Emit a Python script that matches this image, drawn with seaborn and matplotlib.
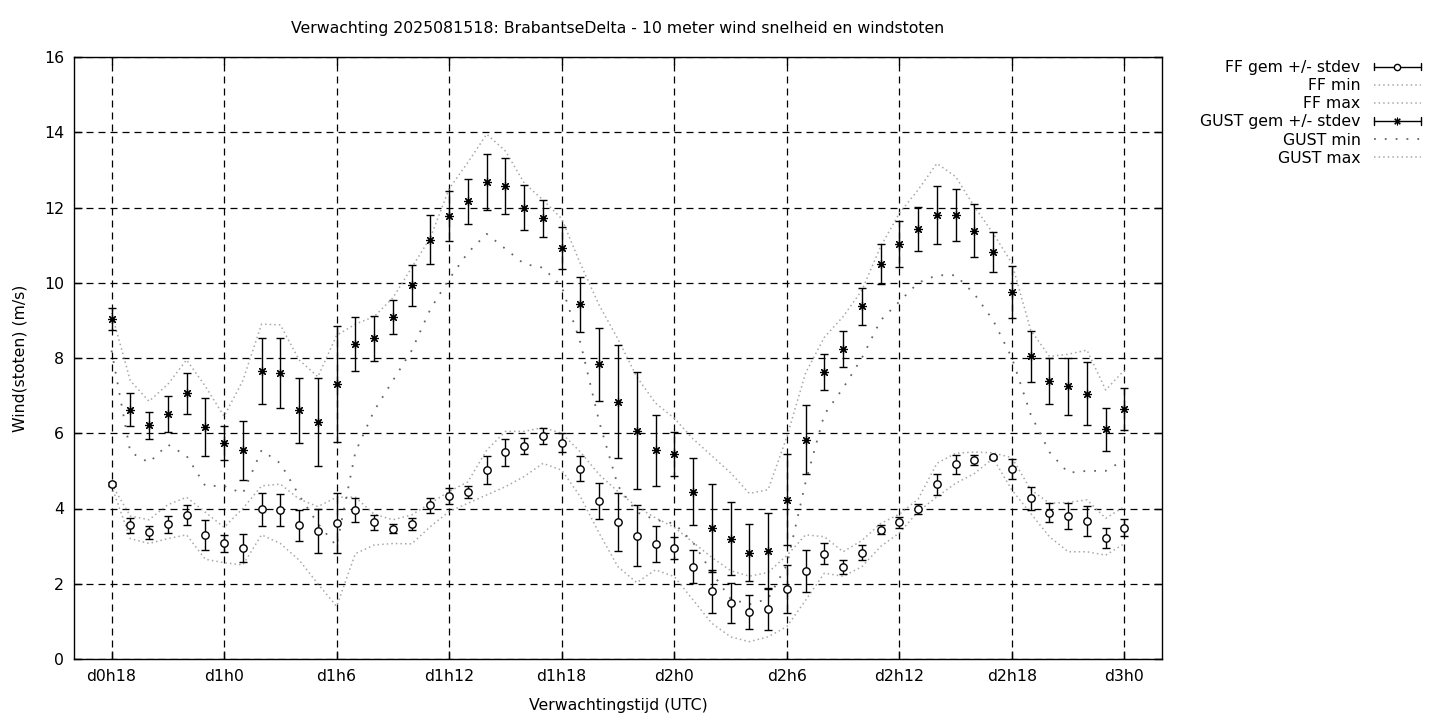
import numpy as np
import pandas as pd
import matplotlib
matplotlib.use("Agg")
import matplotlib.pyplot as plt
import seaborn as sns
from matplotlib.legend_handler import HandlerBase
from matplotlib.lines import Line2D

# ---------------- data (hours since d0h0) ----------------
hours = list(range(18, 73))

ff_mean = [4.65, 3.55, 3.37, 3.58, 3.82, 3.29, 3.07, 2.94, 3.98, 3.96,
           3.55, 3.40, 3.61, 3.96, 3.63, 3.46, 3.58, 4.09, 4.33, 4.44,
           5.02, 5.49, 5.66, 5.93, 5.75, 5.06, 4.20, 3.65, 3.28, 3.06,
           2.95, 2.45, 1.80, 1.49, 1.25, 1.33, 1.86, 2.34, 2.80, 2.45,
           2.83, 3.43, 3.63, 3.98, 4.64, 5.17, 5.29, 5.36, 5.05, 4.27,
           3.89, 3.80, 3.67, 3.22, 3.49]
ff_sd = [0.05, 0.19, 0.17, 0.22, 0.27, 0.40, 0.22, 0.37, 0.44, 0.42,
         0.42, 0.58, 0.80, 0.32, 0.20, 0.12, 0.16, 0.20, 0.22, 0.16,
         0.38, 0.37, 0.21, 0.21, 0.25, 0.34, 0.47, 0.77, 0.80, 0.48,
         0.29, 0.44, 0.57, 0.52, 0.45, 0.56, 0.65, 0.56, 0.27, 0.19,
         0.20, 0.12, 0.15, 0.13, 0.29, 0.25, 0.14, 0.04, 0.27, 0.31,
         0.25, 0.35, 0.39, 0.27, 0.23]
ff_min = [4.60, 3.20, 3.07, 3.20, 3.30, 2.65, 2.56, 2.50, 3.30, 3.07,
          2.63, 2.00, 1.40, 2.80, 3.03, 3.07, 3.06, 3.52, 3.92, 4.14,
          4.36, 4.58, 4.85, 5.20, 5.02, 4.31, 3.34, 2.45, 2.03, 2.37,
          2.19, 1.57, 0.95, 0.59, 0.46, 0.59, 0.86, 1.56, 2.28, 2.20,
          2.45, 2.99, 3.35, 3.92, 4.31, 4.67, 4.93, 5.33, 4.49, 3.87,
          3.25, 2.85, 2.85, 2.76, 3.07]
ff_max = [4.65, 3.80, 3.70, 4.10, 4.30, 3.90, 3.50, 4.00, 4.60, 4.65,
          4.25, 4.05, 4.30, 4.30, 3.85, 3.70, 3.83, 4.14, 4.45, 4.71,
          5.55, 6.05, 6.05, 6.15, 6.00, 5.50, 4.90, 4.45, 4.05, 3.75,
          3.50, 3.10, 2.70, 2.35, 2.20, 2.30, 2.75, 3.30, 3.25, 2.85,
          3.15, 3.60, 3.85, 4.25, 5.20, 5.47, 5.50, 5.48, 5.35, 4.50,
          4.14, 4.16, 4.23, 3.74, 4.05]

gust_mean = [9.04, 6.62, 6.21, 6.51, 7.06, 6.17, 5.74, 5.55, 7.65, 7.59,
             6.61, 6.29, 7.30, 8.37, 8.52, 9.08, 9.93, 11.14, 11.78, 12.16,
             12.67, 12.57, 12.00, 11.71, 10.92, 9.43, 7.83, 6.84, 6.07, 5.55,
             5.44, 4.45, 3.48, 3.19, 2.83, 2.87, 4.23, 5.83, 7.62, 8.24,
             9.37, 10.49, 11.02, 11.43, 11.80, 11.80, 11.38, 10.81, 9.75, 8.05,
             7.39, 7.25, 7.05, 6.10, 6.64]
gust_sd = [0.30, 0.44, 0.36, 0.47, 0.55, 0.77, 0.45, 0.78, 0.88, 0.93,
           0.86, 1.17, 1.54, 0.72, 0.60, 0.45, 0.55, 0.65, 0.67, 0.61,
           0.74, 0.74, 0.60, 0.50, 0.55, 0.73, 0.98, 1.51, 1.55, 0.94,
           0.58, 0.89, 1.16, 0.97, 0.77, 1.01, 1.21, 0.92, 0.48, 0.47,
           0.48, 0.53, 0.61, 0.58, 0.76, 0.69, 0.70, 0.53, 0.69, 0.68,
           0.61, 0.76, 0.84, 0.57, 0.56]
gust_min = [8.20, 5.50, 5.22, 5.70, 5.40, 4.60, 4.60, 4.40, 5.55, 5.20,
            4.35, 3.60, 3.00, 5.50, 6.60, 7.40, 8.20, 9.30, 10.10, 10.80,
            11.30, 10.90, 10.50, 10.40, 9.90, 8.40, 6.30, 4.60, 3.90, 3.70,
            3.60, 3.10, 2.30, 1.60, 1.45, 1.60, 2.50, 4.70, 6.50, 7.20,
            8.00, 9.00, 9.50, 10.00, 10.20, 10.20, 9.70, 9.00, 8.00, 6.50,
            5.50, 4.95, 5.00, 5.00, 5.30]
gust_max = [9.20, 7.40, 6.85, 7.30, 7.95, 7.25, 6.45, 7.40, 8.90, 8.88,
            7.95, 7.50, 8.60, 8.90, 9.10, 9.60, 10.40, 11.20, 12.50, 13.20,
            13.95, 13.50, 12.65, 12.20, 11.70, 10.50, 9.40, 8.50, 7.50, 6.80,
            6.40, 5.85, 5.40, 4.95, 4.40, 4.50, 5.90, 7.60, 8.55, 9.10,
            9.80, 10.96, 11.85, 12.47, 13.17, 12.82, 12.02, 11.31, 10.52, 8.74,
            8.04, 8.10, 8.21, 7.15, 7.68]

tick_hours = [18, 24, 30, 36, 42, 48, 54, 60, 66, 72]
tick_labels = ["d0h18", "d1h0", "d1h6", "d1h12", "d1h18",
               "d2h0", "d2h6", "d2h12", "d2h18", "d3h0"]
y_ticks = [0, 2, 4, 6, 8, 10, 12, 14, 16]

title = "Verwachting 2025081518: BrabantseDelta - 10 meter wind snelheid en windstoten"
legend_labels = ["FF gem +/- stdev", "FF min", "FF max",
                 "GUST gem +/- stdev", "GUST min", "GUST max"]

df = pd.DataFrame({"hour": hours, "ff_min": ff_min, "ff_max": ff_max,
                   "gust_min": gust_min, "gust_max": gust_max})

# ---------------- style ----------------
sns.set_theme(style="white")
plt.rcParams["font.family"] = ["DejaVu Sans"]
plt.rcParams["text.color"] = "black"
FS = 11.3

fig = plt.figure(figsize=(14.4, 7.2), dpi=100)
W, H = 1440, 720
ax = fig.add_axes([74 / W, 1 - 659 / H, (1162 - 74) / W, (659 - 57) / H])

light = "#a8a8a8"
dark = "#666666"
ls_dense = (0, (1, 2))
ls_sparse = (0, (1, 5))

sns.lineplot(data=df, x="hour", y="ff_min", ax=ax, color=light, lw=1.1,
             linestyle=ls_dense, zorder=2)
sns.lineplot(data=df, x="hour", y="ff_max", ax=ax, color=light, lw=1.1,
             linestyle=ls_dense, zorder=2)
sns.lineplot(data=df, x="hour", y="gust_min", ax=ax, color=dark, lw=1.3,
             linestyle=ls_sparse, zorder=2)
sns.lineplot(data=df, x="hour", y="gust_max", ax=ax, color=light, lw=1.1,
             linestyle=ls_dense, zorder=2)

ax.errorbar(hours, ff_mean, yerr=ff_sd, fmt="none", ecolor="black",
            elinewidth=1, capsize=3, capthick=1, zorder=3)
ax.plot(hours, ff_mean, ls="none", marker="o", ms=5.3, mfc="white",
        mec="black", mew=1, zorder=4)
ax.errorbar(hours, gust_mean, yerr=gust_sd, fmt="none", ecolor="black",
            elinewidth=1, capsize=3, capthick=1, zorder=3)
ax.plot(hours, gust_mean, ls="none", marker=(8, 2, 0), ms=6.3,
        mec="black", mew=0.85, zorder=4)

ax.set_xlim(16, 74)
ax.set_ylim(0, 16)
ax.set_xticks(tick_hours)
ax.set_xticklabels(tick_labels)
ax.set_yticks(y_ticks)
ax.set_yticklabels([str(v) for v in y_ticks])
ax.tick_params(axis="both", direction="in", length=6, width=1, color="black",
               labelsize=FS, labelcolor="black", top=True, right=True,
               bottom=True, left=True, pad=7)
ax.grid(True, color="black", linestyle=(0, (5.6, 4)), linewidth=0.9)
ax.set_axisbelow(True)
for sp in ax.spines.values():
    sp.set_color("black")
    sp.set_linewidth(1)

ax.set_xlabel("Verwachtingstijd (UTC)", fontsize=FS, color="black", labelpad=10)
ax.set_ylabel("Wind(stoten) (m/s)", fontsize=FS, color="black", labelpad=12)
fig.text(618 / W, 1 - 29 / H, title, ha="center", va="center",
         fontsize=FS, color="black")


# ---------------- legend ----------------
class ErrKey(HandlerBase):
    def __init__(self, marker, ms, mfc, mew):
        super().__init__()
        self.marker, self.ms, self.mfc, self.mew = marker, ms, mfc, mew

    def create_artists(self, legend, orig_handle, xdescent, ydescent,
                       width, height, fontsize, trans):
        y = height / 2 - ydescent
        x0, x1 = -xdescent, -xdescent + width
        c = height * 0.33
        arts = [Line2D([x0, x1], [y, y], color="black", lw=1),
                Line2D([x0, x0], [y - c, y + c], color="black", lw=1),
                Line2D([x1, x1], [y - c, y + c], color="black", lw=1),
                Line2D([(x0 + x1) / 2], [y], marker=self.marker, ms=self.ms,
                       mfc=self.mfc, mec="black", mew=self.mew, ls="none")]
        for a in arts:
            a.set_transform(trans)
        return arts


h_ff = Line2D([], [])
h_gust = Line2D([], [])
h_ffmin = Line2D([], [], color=light, lw=1.1, ls=ls_dense)
h_ffmax = Line2D([], [], color=light, lw=1.1, ls=ls_dense)
h_gmin = Line2D([], [], color=dark, lw=1.3, ls=ls_sparse)
h_gmax = Line2D([], [], color=light, lw=1.1, ls=ls_dense)

leg = ax.legend([h_ff, h_ffmin, h_ffmax, h_gust, h_gmin, h_gmax], legend_labels,
                handler_map={h_ff: ErrKey("o", 4.5, "white", 1),
                             h_gust: ErrKey((8, 2, 0), 5.5, "black", 0.8)},
                loc="upper right", bbox_to_anchor=(1421 / W, 1 - 60 / H),
                bbox_transform=fig.transFigure, frameon=False,
                markerfirst=False, handlelength=3.0, handletextpad=0.85,
                labelspacing=0.2, fontsize=FS, borderaxespad=0, borderpad=0,
                labelcolor="black")
try:
    for col in leg._legend_handle_box.get_children():
        col.align = "right"
except Exception:
    pass

fig.savefig("out.png", dpi=100, facecolor="white")
